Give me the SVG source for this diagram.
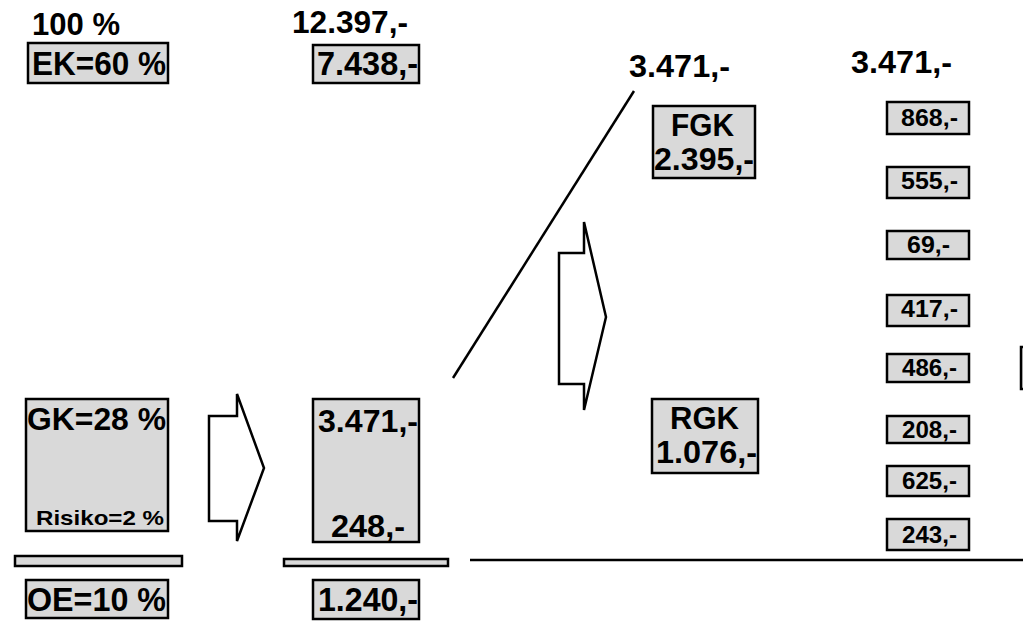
<svg xmlns="http://www.w3.org/2000/svg" width="1023" height="628" viewBox="0 0 1023 628">
<style>
text{font-family:"Liberation Sans",Arial,sans-serif;font-weight:bold;fill:#000}
.box{fill:#d9d9d9;stroke:#000;stroke-width:2.5}
.big{font-size:32px}
.lab{font-size:34px}
.sm{font-size:23px}
.arrow{fill:#fff;stroke:#000;stroke-width:2.5;stroke-linejoin:miter}
.ln{stroke:#000;stroke-width:2.5;fill:none}
</style>
<rect width="1023" height="628" fill="#fff"/>
<g id="headers">
<text class="big" x="32" y="35" textLength="88" lengthAdjust="spacingAndGlyphs">100 %</text>
<text class="big" x="292" y="33" textLength="116" lengthAdjust="spacingAndGlyphs">12.397,-</text>
<text class="big" x="629" y="77" font-size="29" textLength="101" lengthAdjust="spacingAndGlyphs">3.471,-</text>
<text class="big" x="851" y="73" font-size="29" textLength="101" lengthAdjust="spacingAndGlyphs">3.471,-</text>
</g>
<g id="ek">
<rect class="box" x="28" y="43" width="140" height="40"/>
<text class="lab" x="32" y="75" textLength="134" lengthAdjust="spacingAndGlyphs">EK=60 %</text>
</g>
<g id="ek-value">
<rect class="box" x="313" y="45" width="106" height="38"/>
<text class="lab" x="317" y="75" textLength="101" lengthAdjust="spacingAndGlyphs">7.438,-</text>
</g>
<g id="gk">
<rect class="box" x="26" y="399" width="142" height="132"/>
<text class="big" x="27" y="430" textLength="139" lengthAdjust="spacingAndGlyphs">GK=28 %</text>
<text x="36" y="525" font-size="21" textLength="128" lengthAdjust="spacingAndGlyphs">Risiko=2 %</text>
</g>
<g id="gk-value">
<rect class="box" x="313" y="399" width="106" height="143"/>
<text class="big" x="318" y="432" textLength="100" lengthAdjust="spacingAndGlyphs">3.471,-</text>
<text class="big" x="331" y="537" textLength="74" lengthAdjust="spacingAndGlyphs">248,-</text>
</g>
<g id="bar1"><rect class="box" x="15" y="556" width="167" height="10"/></g>
<g id="bar2"><rect class="box" x="284" y="559" width="164" height="7"/></g>
<g id="oe">
<rect class="box" x="26" y="580" width="142" height="38"/>
<text class="lab" x="27" y="611" textLength="139" lengthAdjust="spacingAndGlyphs">OE=10 %</text>
</g>
<g id="oe-value">
<rect class="box" x="313" y="580" width="106" height="39"/>
<text class="lab" x="318" y="611" textLength="100" lengthAdjust="spacingAndGlyphs">1.240,-</text>
</g>
<g id="fgk">
<rect class="box" x="653" y="106" width="102" height="72"/>
<text class="big" x="671" y="136" font-size="30" textLength="63" lengthAdjust="spacingAndGlyphs">FGK</text>
<text class="big" x="654" y="170" font-size="30" textLength="100" lengthAdjust="spacingAndGlyphs">2.395,-</text>
</g>
<g id="rgk">
<rect class="box" x="652" y="399" width="106" height="74"/>
<text class="big" x="670" y="429" font-size="30" textLength="69" lengthAdjust="spacingAndGlyphs">RGK</text>
<text class="big" x="656" y="463" font-size="30" textLength="101" lengthAdjust="spacingAndGlyphs">1.076,-</text>
</g>
<g id="v868"><rect class="box" x="887" y="102" width="82" height="32"/><text class="sm" x="901" y="126" textLength="57" lengthAdjust="spacingAndGlyphs">868,-</text></g>
<g id="v555"><rect class="box" x="887" y="167" width="82" height="31"/><text class="sm" x="901" y="189" textLength="57" lengthAdjust="spacingAndGlyphs">555,-</text></g>
<g id="v69"><rect class="box" x="887" y="231" width="82" height="28"/><text class="sm" x="907" y="253" textLength="43" lengthAdjust="spacingAndGlyphs">69,-</text></g>
<g id="v417"><rect class="box" x="887" y="295" width="82" height="31"/><text class="sm" x="901" y="317" textLength="57" lengthAdjust="spacingAndGlyphs">417,-</text></g>
<g id="v486"><rect class="box" x="887" y="354" width="82" height="28"/><text class="sm" x="902" y="376" textLength="55" lengthAdjust="spacingAndGlyphs">486,-</text></g>
<g id="v208"><rect class="box" x="887" y="416" width="82" height="27"/><text class="sm" x="902" y="438" textLength="55" lengthAdjust="spacingAndGlyphs">208,-</text></g>
<g id="v625"><rect class="box" x="887" y="466" width="82" height="30"/><text class="sm" x="902" y="489" textLength="55" lengthAdjust="spacingAndGlyphs">625,-</text></g>
<g id="v243"><rect class="box" x="887" y="519" width="82" height="31"/><text class="sm" x="902" y="543" textLength="55" lengthAdjust="spacingAndGlyphs">243,-</text></g>
<g id="edge-box"><rect class="box" x="1021" y="347" width="10" height="42"/></g>
<g id="connectors">
<polygon class="arrow" points="209,416 237,416 237,394 264,468 237,541 237,521 209,521"/>
<polygon class="arrow" points="559,253 584,253 584,222 606,317 584,410 584,384 559,384"/>
<line class="ln" x1="453" y1="378" x2="634" y2="91"/>
<line class="ln" x1="470" y1="560" x2="1023" y2="560"/>
</g>
</svg>
